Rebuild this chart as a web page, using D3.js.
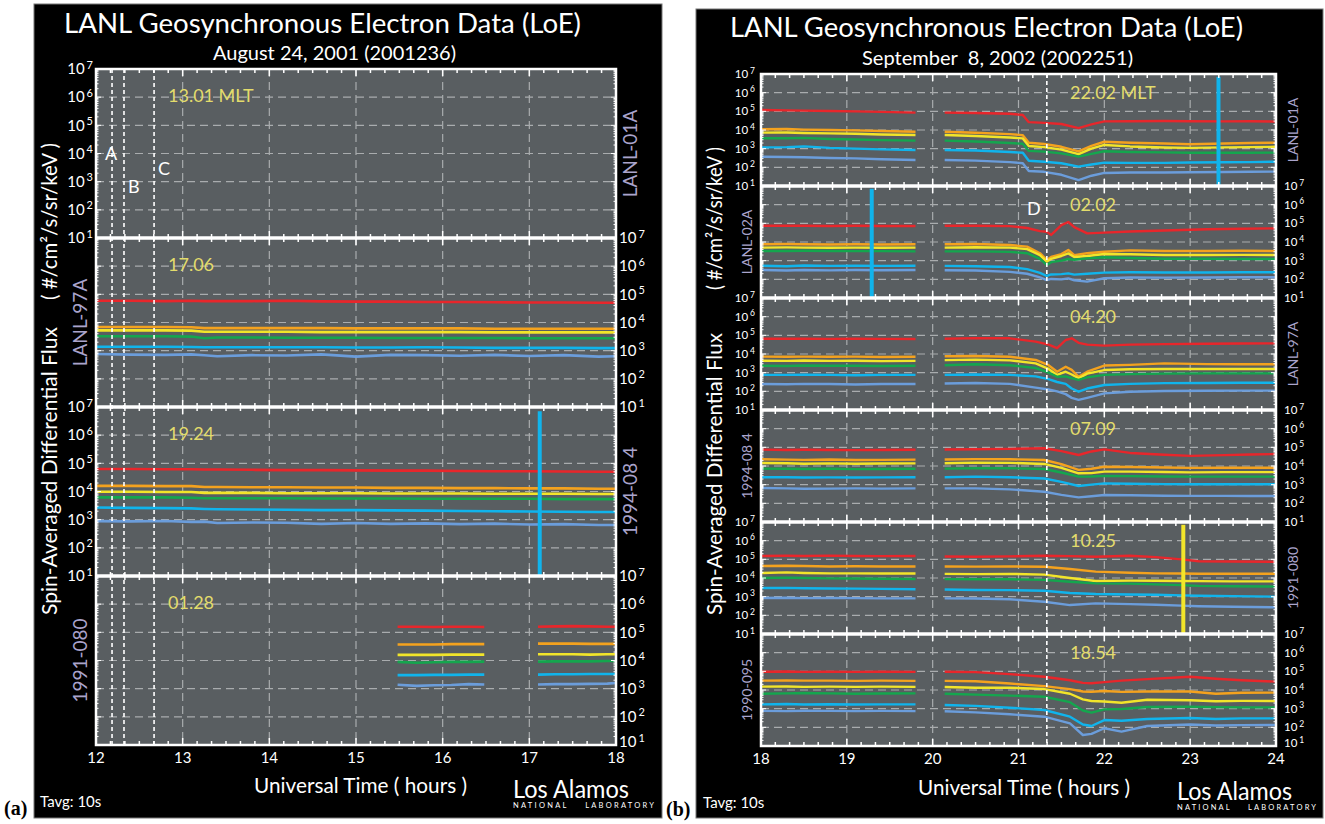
<!DOCTYPE html>
<html><head><meta charset="utf-8">
<script src="https://cdn.jsdelivr.net/npm/d3@7"></script>
<style>
body{margin:0;background:#fff;}
svg{display:block;}
text{font-family:Lato,"Open Sans",sans-serif;}
</style>
</head><body>
<svg id="chart" width="1325" height="824"></svg>
<script>
// ---------------- DATA ----------------
const channelColors = ["#e8262b","#f4a21e","#f2e52a","#14a64e","#10b4ec","#6b9ddb"];
const decades = [1,2,3,4,5,6,7];
const hoursA = [12,13,14,15,16,17,18];
const hoursB = [18,19,20,21,22,23,24];

const satA = ["LANL-01A","LANL-97A","1994-08 4","1991-080"];
const mltA = ["13.01 MLT","17.06","19.24","01.28"];
const satB = ["LANL-01A","LANL-02A","LANL-97A","1994-08 4","1991-080","1990-095"];
const mltB = ["22.02 MLT","02.02","04.20","07.09","10.25","18.54"];

const eventTimesA = [12.185,12.323,12.67];
const eventLabelsA = ["A","B","C"];
const eventTimesB = [21.33];
const eventLabelsB = ["D"];

// spikes: panel index, time (h), channel index
const spikePanelA = [2];
const spikeTimeA = [17.12];
const spikeChanA = [4];
const spikePanelB = [0,1,4];
const spikeTimeB = [23.33,19.29,22.92];
const spikeChanB = [4,4,2];

// ---- Figure (a): log10 flux, rows = red, orange, yellow, green, cyan, steelblue
const tA_full = [12,12.4,12.8,13.1,13.25,13.4,13.8,14.2,14.6,15.0,15.4,15.8,16.2,16.6,17.0,17.4,17.8,18];
const fluxA_97A = [
 [4.77,4.77,4.76,4.77,4.76,4.76,4.76,4.77,4.75,4.74,4.74,4.73,4.73,4.72,4.71,4.71,4.70,4.70],
 [3.84,3.84,3.84,3.83,3.80,3.80,3.80,3.80,3.80,3.79,3.79,3.79,3.79,3.78,3.78,3.78,3.78,3.78],
 [3.72,3.72,3.72,3.71,3.67,3.67,3.67,3.67,3.66,3.66,3.66,3.66,3.66,3.65,3.65,3.65,3.65,3.65],
 [3.51,3.51,3.51,3.50,3.44,3.47,3.47,3.46,3.46,3.46,3.45,3.45,3.45,3.45,3.44,3.44,3.44,3.44],
 [3.14,3.14,3.14,3.13,3.12,3.12,3.12,3.12,3.12,3.11,3.11,3.12,3.11,3.10,3.10,3.10,3.09,3.09],
 [2.88,2.86,2.85,2.87,2.84,2.80,2.84,2.83,2.87,2.79,2.85,2.84,2.82,2.85,2.81,2.84,2.79,2.80]];
const fluxA_1994 = [
 [4.80,4.80,4.79,4.79,4.78,4.78,4.77,4.76,4.76,4.75,4.74,4.74,4.73,4.72,4.72,4.71,4.70,4.70],
 [4.20,4.20,4.19,4.19,4.16,4.16,4.15,4.15,4.14,4.14,4.13,4.13,4.12,4.12,4.11,4.11,4.10,4.10],
 [3.99,3.99,3.98,3.98,3.95,3.95,3.95,3.94,3.94,3.94,3.93,3.93,3.93,3.92,3.92,3.92,3.91,3.91],
 [3.79,3.79,3.79,3.78,3.76,3.76,3.76,3.76,3.75,3.75,3.75,3.74,3.74,3.74,3.74,3.73,3.73,3.73],
 [3.43,3.42,3.41,3.40,3.38,3.37,3.36,3.35,3.34,3.34,3.33,3.32,3.31,3.30,3.29,3.28,3.27,3.27],
 [2.95,2.94,2.95,2.92,2.93,2.88,2.90,2.89,2.85,2.88,2.85,2.87,2.84,2.86,2.83,2.84,2.81,2.81]];
const tA_1991a = [15.48,15.7,15.9,16.1,16.3,16.48];
const fluxA_1991a = [
 [5.20,5.20,5.19,5.20,5.20,5.19],
 [4.57,4.57,4.57,4.58,4.58,4.58],
 [4.20,4.20,4.20,4.21,4.21,4.21],
 [3.95,3.92,3.94,3.95,3.95,3.96],
 [3.48,3.48,3.49,3.49,3.50,3.50],
 [3.14,3.10,3.12,3.13,3.16,3.15]];
const tA_1991b = [17.1,17.3,17.5,17.7,17.9,18];
const fluxA_1991b = [
 [5.20,5.21,5.22,5.21,5.20,5.20],
 [4.60,4.60,4.60,4.59,4.59,4.59],
 [4.22,4.22,4.22,4.21,4.22,4.22],
 [3.96,3.97,3.97,3.97,3.98,3.98],
 [3.50,3.51,3.51,3.52,3.52,3.52],
 [3.15,3.16,3.16,3.17,3.18,3.20]];

// ---- Figure (b)
const tB_seg1 = [18,18.3,18.5,18.8,19.1,19.4,19.8];
const fluxB_01A_1 = [
 [5.07,5.05,5.04,5.02,5.00,4.97,4.93],
 [4.04,4.05,4.02,4.00,3.98,3.95,3.91],
 [3.86,3.87,3.84,3.82,3.80,3.76,3.73],
 [3.56,3.56,3.58,3.52,3.49,3.46,3.43],
 [3.07,3.08,3.12,3.04,3.00,2.96,2.93],
 [2.57,2.55,2.54,2.50,2.48,2.43,2.39]];
const tB_01A_2 = [20.14,20.5,20.9,21.05,21.12,21.3,21.5,21.7,21.85,22.0,22.3,22.7,23.0,23.4,23.7,24.0];
const fluxB_01A_2 = [
 [4.93,4.91,4.87,4.80,4.42,4.38,4.32,4.10,4.30,4.46,4.47,4.48,4.47,4.46,4.47,4.45],
 [3.91,3.85,3.78,3.72,3.32,3.25,3.10,2.85,3.15,3.37,3.32,3.28,3.24,3.28,3.30,3.32],
 [3.73,3.68,3.60,3.55,3.14,3.08,2.95,2.71,3.00,3.20,3.12,3.06,3.04,3.07,3.08,3.10],
 [3.43,3.38,3.30,3.26,2.88,2.84,2.75,2.57,2.72,2.86,2.82,2.80,2.78,2.78,2.78,2.79],
 [2.93,2.90,2.82,2.78,2.35,2.30,2.22,2.04,2.15,2.25,2.24,2.24,2.26,2.27,2.28,2.30],
 [2.39,2.36,2.28,2.22,1.80,1.76,1.60,1.32,1.55,1.70,1.72,1.72,1.74,1.75,1.76,1.77]];
const fluxB_02A_1 = [
 [4.87,4.87,4.87,4.86,4.87,4.86,4.86],
 [3.88,3.89,3.88,3.87,3.88,3.87,3.88],
 [3.70,3.71,3.70,3.69,3.70,3.69,3.70],
 [3.52,3.52,3.53,3.52,3.51,3.51,3.50],
 [2.73,2.70,2.74,2.72,2.73,2.72,2.73],
 [2.50,2.47,2.50,2.48,2.50,2.49,2.50]];
const tB_02A_2 = [20.14,20.5,20.9,21.1,21.25,21.33,21.38,21.5,21.58,21.65,21.8,22.0,22.3,22.7,23.2,23.6,24.0];
const fluxB_02A_2 = [
 [4.87,4.87,4.85,4.75,4.58,4.55,4.38,4.90,5.07,4.80,4.46,4.50,4.56,4.62,4.68,4.71,4.73],
 [3.88,3.89,3.84,3.75,3.40,3.04,3.20,3.35,3.57,3.30,3.40,3.48,3.55,3.52,3.52,3.53,3.52],
 [3.70,3.72,3.70,3.62,3.30,2.95,3.10,3.25,3.39,3.20,3.25,3.36,3.34,3.30,3.30,3.31,3.30],
 [3.50,3.50,3.47,3.40,3.10,2.77,2.92,3.00,3.09,3.05,3.12,3.18,3.14,3.10,3.10,3.09,3.09],
 [2.72,2.70,2.66,2.55,2.35,2.18,2.26,2.28,2.32,2.25,2.30,2.36,2.38,2.37,2.37,2.38,2.38],
 [2.49,2.47,2.40,2.30,2.10,1.96,2.02,2.00,2.05,1.95,1.88,2.06,2.10,2.09,2.10,2.11,2.11]];
const fluxB_97A_1 = [
 [4.82,4.82,4.82,4.81,4.82,4.81,4.80],
 [3.86,3.85,3.86,3.85,3.86,3.84,3.85],
 [3.64,3.63,3.65,3.63,3.64,3.62,3.63],
 [3.37,3.36,3.38,3.37,3.37,3.36,3.37],
 [2.88,2.88,2.89,2.88,2.86,2.88,2.88],
 [2.39,2.38,2.40,2.39,2.37,2.39,2.39]];
const tB_97A_2 = [20.14,20.5,20.9,21.2,21.35,21.45,21.55,21.62,21.7,21.8,22.0,22.3,22.7,23.2,23.6,24.0];
const fluxB_97A_2 = [
 [4.82,4.85,4.84,4.66,4.50,4.31,4.75,4.84,4.60,4.50,4.45,4.50,4.53,4.55,4.56,4.57],
 [3.88,3.89,3.85,3.68,3.40,3.05,3.32,3.15,2.78,3.05,3.38,3.42,3.50,3.46,3.45,3.45],
 [3.67,3.70,3.66,3.50,3.20,2.88,3.05,2.90,2.70,2.95,3.14,3.18,3.20,3.20,3.20,3.20],
 [3.40,3.45,3.40,3.25,3.00,2.78,2.80,2.70,2.61,2.75,2.88,2.92,2.95,2.96,2.96,2.96],
 [2.88,2.90,2.88,2.80,2.65,2.50,2.40,2.15,1.98,2.15,2.34,2.40,2.44,2.45,2.46,2.46],
 [2.42,2.45,2.40,2.20,2.10,2.00,1.85,1.65,1.54,1.65,1.89,1.98,2.02,2.03,2.04,2.04]];
const fluxB_1994_1 = [
 [4.88,4.86,4.87,4.86,4.85,4.86,4.87],
 [4.36,4.34,4.33,4.35,4.32,4.33,4.34],
 [4.16,4.15,4.12,4.14,4.12,4.13,4.14],
 [3.86,3.85,3.84,3.85,3.83,3.84,3.85],
 [3.40,3.40,3.38,3.39,3.38,3.39,3.40],
 [2.82,2.80,2.78,2.79,2.80,2.79,2.80]];
const tB_1994_2 = [20.14,20.5,20.9,21.3,21.5,21.7,21.85,22.0,22.3,22.7,23.0,23.4,23.7,24.0];
const fluxB_1994_2 = [
 [4.88,4.90,4.92,4.95,4.80,4.59,4.78,4.89,4.70,4.60,4.54,4.58,4.62,4.64],
 [4.35,4.37,4.36,4.32,4.10,3.79,3.85,3.96,3.95,3.92,3.90,3.91,3.91,3.91],
 [4.15,4.18,4.17,4.11,3.90,3.61,3.62,3.70,3.70,3.68,3.66,3.67,3.67,3.67],
 [3.86,3.88,3.88,3.84,3.65,3.43,3.44,3.47,3.46,3.44,3.43,3.43,3.43,3.43],
 [3.40,3.43,3.40,3.33,3.15,2.93,3.00,3.07,3.05,3.03,3.02,3.02,3.02,3.02],
 [2.80,2.80,2.75,2.62,2.45,2.32,2.38,2.45,2.43,2.41,2.40,2.40,2.39,2.39]];
const fluxB_1991_1 = [
 [5.18,5.19,5.18,5.20,5.18,5.17,5.18],
 [4.64,4.66,4.64,4.62,4.63,4.62,4.62],
 [4.27,4.30,4.27,4.25,4.25,4.24,4.24],
 [4.00,4.02,4.00,3.98,3.97,3.96,3.95],
 [3.46,3.47,3.45,3.44,3.43,3.42,3.40],
 [2.93,2.94,2.92,2.93,2.92,2.91,2.91]];
const tB_1991_2 = [20.14,20.5,20.9,21.3,21.6,21.9,22.3,22.6,22.9,23.1,23.5,24.0];
const fluxB_1991_2 = [
 [5.15,5.14,5.16,5.19,5.17,5.14,5.19,5.12,5.00,4.90,4.88,4.87],
 [4.62,4.61,4.62,4.60,4.48,4.34,4.28,4.25,4.24,4.23,4.23,4.23],
 [4.22,4.21,4.22,4.18,4.00,3.84,3.86,3.85,3.84,3.83,3.82,3.82],
 [3.94,3.93,3.93,3.90,3.80,3.71,3.70,3.66,3.62,3.58,3.56,3.54],
 [3.38,3.36,3.35,3.32,3.20,3.14,3.12,3.10,3.07,3.05,3.03,3.00],
 [2.91,2.90,2.86,2.73,2.55,2.64,2.60,2.57,2.52,2.49,2.46,2.43]];
const fluxB_1990_1 = [
 [4.98,4.99,4.97,4.98,4.97,4.98,4.97],
 [4.50,4.51,4.50,4.50,4.49,4.50,4.49],
 [4.18,4.19,4.17,4.18,4.17,4.18,4.17],
 [3.80,3.82,3.84,3.82,3.80,3.81,3.82],
 [3.23,3.25,3.22,3.24,3.22,3.23,3.23],
 [2.88,2.87,2.89,2.88,2.87,2.88,2.87]];
const tB_1990_2 = [20.14,20.5,20.9,21.3,21.6,21.75,21.85,22.0,22.2,22.5,23.0,23.3,23.6,24.0];
const fluxB_1990_2 = [
 [4.98,4.96,4.85,4.71,4.52,4.38,4.36,4.42,4.50,4.58,4.71,4.60,4.52,4.45],
 [4.49,4.47,4.35,4.21,4.05,3.92,3.91,3.95,3.90,3.92,3.92,3.80,3.85,3.86],
 [4.16,4.12,4.12,4.05,3.80,3.50,3.41,3.38,3.32,3.48,3.45,3.40,3.42,3.41],
 [3.80,3.75,3.70,3.64,3.35,2.90,2.79,2.96,2.98,3.09,3.10,3.08,3.07,3.07],
 [3.20,3.15,3.05,2.93,2.57,2.15,2.07,2.39,2.35,2.45,2.50,2.45,2.48,2.48],
 [2.86,2.80,2.70,2.57,2.21,1.59,1.65,1.95,1.77,2.07,2.15,2.10,2.12,2.13]];

// segments per panel
const segmentsA = [
 [],
 [[tA_full, fluxA_97A]],
 [[tA_full, fluxA_1994]],
 [[tA_1991a, fluxA_1991a],[tA_1991b, fluxA_1991b]]
];
const segmentsB = [
 [[tB_seg1, fluxB_01A_1],[tB_01A_2, fluxB_01A_2]],
 [[tB_seg1, fluxB_02A_1],[tB_02A_2, fluxB_02A_2]],
 [[tB_seg1, fluxB_97A_1],[tB_97A_2, fluxB_97A_2]],
 [[tB_seg1, fluxB_1994_1],[tB_1994_2, fluxB_1994_2]],
 [[tB_seg1, fluxB_1991_1],[tB_1991_2, fluxB_1991_2]],
 [[tB_seg1, fluxB_1990_1],[tB_1990_2, fluxB_1990_2]]
];

// ---------------- LAYOUT ----------------
const PANEL_BG = "#595e61";
const GRID = "#a9acae";
const MLT_COLOR = "#e3dc6c";
const SAT_COLOR = "#aaa4cc";

const figA = {
  bg:[34,4,628,814], x0:96, x1:616, top:69, panelH:169, domain:[12,18], hours:hoursA,
  sats:satA, mlt:mltA, segs:segmentsA, evT:eventTimesA, evL:eventLabelsA,
  evLabelPos:[[105,160],[128,193],[158,175]],
  spP:spikePanelA, spT:spikeTimeA, spC:spikeChanA,
  tickFont:15, supFont:11, tickLeftX:93, tickRightX:619, satFont:19, satLeftX:79, satRightX:629,
  mltX:168, mltDy:33, mltFont:18, xTickFont:15,
  title:["LANL Geosynchronous Electron Data (LoE)",64,33,517,27],
  sub:["August 24, 2001 (2001236)",213,60,243,19],
  yTitleX:50, yMain:[615,327], yUnits:[300,143],
  xTitle:[254,793,213], los:[513,798,116], nat:[513,808,141], tavg:[40,807], tag:["(a)",4,815],
  lineW:2.6
};
const figB = {
  bg:[696,9,627,809], x0:761, x1:1276, top:74, panelH:112, domain:[18,24], hours:hoursB,
  sats:satB, mlt:mltB, segs:segmentsB, evT:eventTimesB, evL:eventLabelsB,
  evLabelPos:[[1027,215]],
  spP:spikePanelB, spT:spikeTimeB, spC:spikeChanB,
  tickFont:11.5, supFont:8.5, tickLeftX:755, tickRightX:1284, satFont:14, satLeftX:746, satRightX:1292,
  mltX:1070, mltDy:25, mltFont:18, xTickFont:15,
  title:["LANL Geosynchronous Electron Data (LoE)",730,37,513,27],
  sub:["September  8, 2002 (2002251)",862,65,271,19],
  yTitleX:715, yMain:[615,333], yUnits:[290,147],
  xTitle:[918,795,212], los:[1177,800,115], nat:[1177,810,139], tavg:[703,808], tag:["(b)",666,816],
  lineW:2.4
};

const svg = d3.select("#chart");
const defs = svg.append("defs");

function drawFigure(cfg, id) {
  const g = svg.append("g");
  g.append("rect").attr("x",cfg.bg[0]).attr("y",cfg.bg[1]).attr("width",cfg.bg[2]).attr("height",cfg.bg[3])
    .attr("fill","#000").attr("stroke","#777").attr("stroke-width",1);
  const x = d3.scaleLinear().domain(cfg.domain).range([cfg.x0, cfg.x1]);
  const n = cfg.sats.length;
  const bottom = cfg.top + n*cfg.panelH;
  const minorT = d3.range(cfg.domain[0], cfg.domain[1]+1e-6, 1/6);

  cfg.sats.forEach((sat, i) => {
    const top = cfg.top + i*cfg.panelH;
    const y = d3.scaleLog().domain([10, 1e7]).range([top+cfg.panelH, top]);
    const pg = g.append("g");
    pg.append("rect").attr("x",cfg.x0).attr("y",top).attr("width",cfg.x1-cfg.x0).attr("height",cfg.panelH).attr("fill",PANEL_BG);
    const cid = "clip"+id+i;
    defs.append("clipPath").attr("id",cid).append("rect")
      .attr("x",cfg.x0).attr("y",top).attr("width",cfg.x1-cfg.x0).attr("height",cfg.panelH);
    // grid
    pg.selectAll(null).data(decades.slice(1,-1)).enter().append("line")
      .attr("x1",cfg.x0).attr("x2",cfg.x1).attr("y1",d=>y(Math.pow(10,d))).attr("y2",d=>y(Math.pow(10,d)))
      .attr("stroke",GRID).attr("stroke-width",1.2).attr("stroke-dasharray","8,5");
    pg.selectAll(null).data(cfg.hours.slice(1,-1)).enter().append("line")
      .attr("x1",d=>x(d)).attr("x2",d=>x(d)).attr("y1",top).attr("y2",top+cfg.panelH)
      .attr("stroke",GRID).attr("stroke-width",1.2).attr("stroke-dasharray","8,5");
    // data
    const dg = pg.append("g").attr("clip-path","url(#"+cid+")");
    cfg.segs[i].forEach(([ts, rows]) => {
      rows.forEach((vals, c) => {
        const line = d3.line().x((d,k)=>x(ts[k])).y(d=>y(Math.pow(10,d)));
        dg.append("path").attr("d", line(vals)).attr("fill","none")
          .attr("stroke",channelColors[c]).attr("stroke-width",cfg.lineW).attr("stroke-linejoin","round");
      });
    });
    // spikes
    cfg.spP.forEach((p, k) => {
      if (p !== i) return;
      dg.append("line").attr("x1",x(cfg.spT[k])).attr("x2",x(cfg.spT[k]))
        .attr("y1",y(Math.pow(10,6.85))).attr("y2",y(10))
        .attr("stroke",channelColors[cfg.spC[k]]).attr("stroke-width",4);
    });
    // ticks top/bottom
    minorT.forEach((t, k) => {
      const major = (k % 6 === 0);
      const len = major ? 7 : 4;
      pg.append("line").attr("x1",x(t)).attr("x2",x(t)).attr("y1",top).attr("y2",top+len).attr("stroke","#fff").attr("stroke-width",1.5);
      pg.append("line").attr("x1",x(t)).attr("x2",x(t)).attr("y1",top+cfg.panelH).attr("y2",top+cfg.panelH-len).attr("stroke","#fff").attr("stroke-width",1.5);
    });
    // ticks left/right (log)
    y.ticks().forEach(v => {
      const lg = Math.log10(v);
      const major = Math.abs(lg - Math.round(lg)) < 1e-6;
      const len = major ? 5 : 2.5;
      [[cfg.x0, 1],[cfg.x1, -1]].forEach(([xx, s]) => {
        pg.append("line").attr("x1",xx).attr("x2",xx+s*len).attr("y1",y(v)).attr("y2",y(v)).attr("stroke","#fff").attr("stroke-width",1);
      });
    });
    // tick labels
    const leftSide = (i % 2 === 0);
    decades.forEach(dd => {
      const shift = (dd === 1 && i === n-1) ? -3 : 0;
      const t = g.append("text").attr("fill","#fff").attr("font-size",cfg.tickFont)
        .attr("x", leftSide ? cfg.tickLeftX : cfg.tickRightX)
        .attr("y", y(Math.pow(10,dd)) + cfg.tickFont*0.35 + shift)
        .attr("text-anchor", leftSide ? "end" : "start");
      t.append("tspan").text("10");
      t.append("tspan").attr("font-size",cfg.supFont).attr("dx",2).attr("dy",-cfg.tickFont*0.38).text(dd);
    });
    // satellite label
    const sx = leftSide ? cfg.satRightX : cfg.satLeftX;
    g.append("text").attr("fill",SAT_COLOR).attr("font-size",cfg.satFont)
      .attr("text-anchor","middle").attr("dominant-baseline","central")
      .attr("transform",`translate(${sx},${top+cfg.panelH/2}) rotate(-90)`).text(sat);
    // MLT
    g.append("text").attr("fill",MLT_COLOR).attr("font-size",cfg.mltFont)
      .attr("x",cfg.mltX).attr("y",top+cfg.mltDy).text(cfg.mlt[i]);
  });
  // panel separators & border
  d3.range(1,n).forEach(k => {
    g.append("line").attr("x1",cfg.x0).attr("x2",cfg.x1)
      .attr("y1",cfg.top+k*cfg.panelH).attr("y2",cfg.top+k*cfg.panelH)
      .attr("stroke","#fff").attr("stroke-width",3.5);
  });
  g.append("rect").attr("x",cfg.x0).attr("y",cfg.top).attr("width",cfg.x1-cfg.x0).attr("height",n*cfg.panelH)
    .attr("fill","none").attr("stroke","#fff").attr("stroke-width",2.5);
  // event lines
  cfg.evT.forEach((t, k) => {
    g.append("line").attr("x1",x(t)).attr("x2",x(t)).attr("y1",cfg.top).attr("y2",bottom)
      .attr("stroke","#fff").attr("stroke-width",1.6).attr("stroke-dasharray","4,3");
    g.append("text").attr("fill","#fff").attr("font-size",18)
      .attr("x",cfg.evLabelPos[k][0]).attr("y",cfg.evLabelPos[k][1]).text(cfg.evL[k]);
  });
  // x tick labels
  cfg.hours.forEach(h => {
    g.append("text").attr("fill","#fff").attr("font-size",cfg.xTickFont).attr("text-anchor","middle")
      .attr("x",x(h)).attr("y",bottom+18).text(h);
  });
  // titles
  const T = cfg.title;
  g.append("text").attr("fill","#fff").attr("font-size",T[4]).attr("x",T[1]).attr("y",T[2])
    .attr("textLength",T[3]).attr("lengthAdjust","spacingAndGlyphs").text(T[0]);
  const S = cfg.sub;
  g.append("text").attr("fill","#fff").attr("font-size",S[4]).attr("x",S[1]).attr("y",S[2])
    .attr("textLength",S[3]).attr("lengthAdjust","spacingAndGlyphs").style("white-space","pre").text(S[0]);
  // y title
  g.append("text").attr("fill","#fff").attr("font-size",21)
    .attr("transform",`translate(${cfg.yTitleX+7},${cfg.yMain[0]}) rotate(-90)`)
    .attr("textLength",cfg.yMain[0]-cfg.yMain[1]).attr("lengthAdjust","spacingAndGlyphs")
    .text("Spin-Averaged Differential Flux");
  g.append("text").attr("fill","#fff").attr("font-size",21)
    .attr("transform",`translate(${cfg.yTitleX+7},${cfg.yUnits[0]}) rotate(-90)`)
    .attr("textLength",cfg.yUnits[0]-cfg.yUnits[1]).attr("lengthAdjust","spacingAndGlyphs")
    .text("( #/cm²/s/sr/keV )");
  // x title
  g.append("text").attr("fill","#fff").attr("font-size",22).attr("x",cfg.xTitle[0]).attr("y",cfg.xTitle[1])
    .attr("textLength",cfg.xTitle[2]).attr("lengthAdjust","spacingAndGlyphs").text("Universal Time ( hours )");
  // Los Alamos
  g.append("text").attr("fill","#fff").attr("font-size",25).attr("x",cfg.los[0]).attr("y",cfg.los[1])
    .attr("textLength",cfg.los[2]).attr("lengthAdjust","spacingAndGlyphs").text("Los Alamos");
  g.append("text").attr("fill","#fff").attr("font-size",7.5).attr("x",cfg.nat[0]).attr("y",cfg.nat[1])
    .attr("textLength",cfg.nat[2]).attr("lengthAdjust","spacing").style("white-space","pre").text("NATIONAL    LABORATORY");
  g.append("text").attr("fill","#fff").attr("font-size",15).attr("x",cfg.tavg[0]).attr("y",cfg.tavg[1]).text("Tavg: 10s");
  svg.append("text").attr("fill","#000").attr("font-size",20).attr("font-weight","bold")
    .style("font-family","'Liberation Serif','DejaVu Serif',serif")
    .attr("x",cfg.tag[1]).attr("y",cfg.tag[2]).text(cfg.tag[0]);
}

drawFigure(figA, "a");
drawFigure(figB, "b");
</script>
</body></html>
